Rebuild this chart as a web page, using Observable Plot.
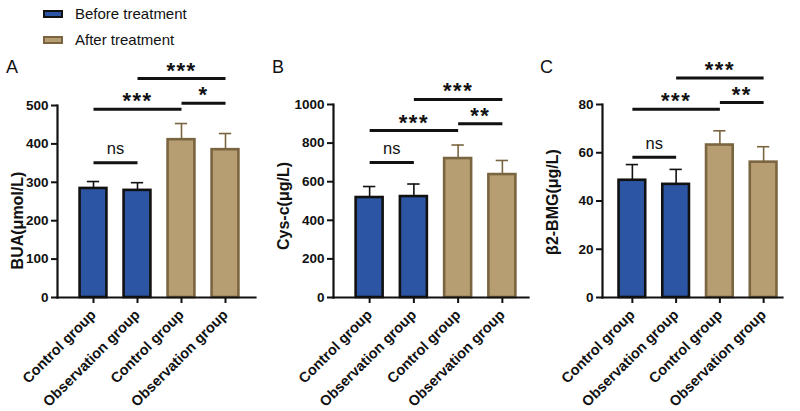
<!DOCTYPE html>
<html>
<head>
<meta charset="utf-8">
<script src="https://cdn.jsdelivr.net/npm/d3@7"></script>
<script src="https://cdn.jsdelivr.net/npm/@observablehq/plot@0.6"></script>
<style>
  html, body { margin: 0; padding: 0; background: #fff; }
  #root { position: relative; width: 800px; height: 411px; overflow: hidden; font-family: "Liberation Sans", Arial, sans-serif; }
  .panel { position: absolute; top: 50px; }
  .letter { position: absolute; font-size: 18px; color: #111; }
  .leg { position: absolute; left: 43px; font-size: 15px; color: #111; display: flex; align-items: center; }
  .leg .sw { width: 16px; height: 4px; border: 2px solid; margin-right: 12px; }
</style>
</head>
<body>
<div id="root"></div>
<script>
// ---------- data ----------
const categories = ["Control group", "Observation group", "Control group", "Observation group"];
const phases = ["Before treatment", "Before treatment", "After treatment", "After treatment"];
const seriesNames = ["Before treatment", "After treatment"];

const buaMean = [284, 279, 411, 385];
const buaUpper = [302, 299, 453, 427];
const buaTicks = [0, 100, 200, 300, 400, 500];

const cysMean = [518, 523, 720, 637];
const cysUpper = [575, 588, 790, 710];
const cysTicks = [0, 200, 400, 600, 800, 1000];

const bmgMean = [48.6, 46.9, 63.2, 56.1];
const bmgUpper = [55.1, 53.1, 69.1, 62.5];
const bmgTicks = [0, 20, 40, 60, 80];

// significance brackets: from group index, to group index, height (data units), label
const sigFrom = [0, 0, 2, 1];
const sigTo = [1, 2, 3, 3];
const buaSigY = [351, 490, 506, 570];
const cysSigY = [700, 865, 900, 1026];
const bmgSigY = [58.1, 78, 80.8, 91];
const buaSigLabel = ["ns", "***", "*", "***"];
const cysSigLabel = ["ns", "***", "**", "***"];
const bmgSigLabel = ["ns", "***", "**", "***"];

// ---------- styles ----------
const fillColor = {"Before treatment": "#2c56a4", "After treatment": "#b69e72"};
const strokeColor = {"Before treatment": "#111111", "After treatment": "#7a6540"};
const FONT = "Liberation Sans, Arial, sans-serif";
const HALF_BAR = 0.305;   // bar half-width in group units
const HALF_CAP = 0.14;    // error-bar cap half-width in group units

function panel(o) {
  const rows = categories.map((c, i) => ({i, cat: c, phase: phases[i], mean: o.mean[i], upper: o.upper[i]}));
  const sig = o.sigY.map((y, j) => ({from: sigFrom[j], to: sigTo[j], y, label: o.sigLabel[j]}));
  const stars = sig.filter(d => d.label !== "ns");
  const ns = sig.filter(d => d.label === "ns");
  return Plot.plot({
    width: o.width,
    height: 361,
    marginTop: o.marginTop,
    marginBottom: 361 - o.zeroY,
    marginLeft: o.marginLeft,
    marginRight: o.marginRight,
    style: {fontFamily: FONT, overflow: "visible", background: "transparent", color: "#111"},
    x: {type: "linear", domain: [-0.5, categories.length - 0.5], range: o.xRange},
    y: {domain: [0, o.ticks[o.ticks.length - 1]]},
    marks: [
      // error bars (upper half only)
      Plot.ruleX(rows, {x: "i", y1: "mean", y2: "upper", stroke: d => strokeColor[d.phase], strokeWidth: 1.6}),
      Plot.ruleY(rows, {x1: d => d.i - HALF_CAP, x2: d => d.i + HALF_CAP, y: "upper", stroke: d => strokeColor[d.phase], strokeWidth: 1.6}),
      // bars
      Plot.rectY(rows, {x1: d => d.i - HALF_BAR, x2: d => d.i + HALF_BAR, y: "mean", fill: d => fillColor[d.phase], stroke: d => strokeColor[d.phase], strokeWidth: 2.6}),
      // axes
      Plot.axisY({ticks: o.ticks, tickSize: 6, tickPadding: 3, fontSize: 13.5, fontWeight: "bold", strokeWidth: 2, label: null, tickFormat: d => String(d)}),
      Plot.axisX({ticks: categories.map((_, i) => i), tickSize: 6, tickPadding: 9, tickRotate: -45, fontSize: 14.5, fontWeight: "bold", strokeWidth: 2, label: null, tickFormat: i => categories[i]}),
      Plot.frame({anchor: "left", strokeWidth: 2.2, stroke: "#111"}),
      Plot.frame({anchor: "bottom", strokeWidth: 2.2, stroke: "#111"}),
      // y label
      Plot.text([o.label], {frameAnchor: "left", rotate: -90, dx: -o.labelOffset, dy: o.labelDy, fontSize: 16, fontWeight: "bold", textAnchor: "middle", lineAnchor: "middle", fill: "#111"}),
      // significance brackets
      Plot.link(sig, {x1: "from", x2: "to", y1: "y", y2: "y", stroke: "#111", strokeWidth: 3}),
      Plot.text(ns, {x: d => (d.from + d.to) / 2, y: "y", text: "label", dy: -8.5, lineAnchor: "bottom", fontSize: 16.5, fill: "#111"}),
      Plot.text(stars, {x: d => (d.from + d.to) / 2, y: "y", text: "label", dy: -1, lineAnchor: "bottom", fontSize: 22, fontWeight: "bold", fill: "#111"}),
    ]
  });
}

const root = document.getElementById("root");

const configs = [
  {left: 0, width: 270, marginTop: 55, zeroY: 247, marginLeft: 57, marginRight: 15, xRange: [71, 247],
   ticks: buaTicks, mean: buaMean, upper: buaUpper, sigY: buaSigY, sigLabel: buaSigLabel,
   label: "BUA(μmol/L)", labelOffset: 40, labelDy: 19, letter: "A", letterX: 6},
  {left: 270, width: 270, marginTop: 54, zeroY: 247, marginLeft: 63, marginRight: 12, xRange: [77, 254],
   ticks: cysTicks, mean: cysMean, upper: cysUpper, sigY: cysSigY, sigLabel: cysSigLabel,
   label: "Cys-c(μg/L)", labelOffset: 50, labelDy: 5, letter: "B", letterX: 272},
  {left: 540, width: 260, marginTop: 54, zeroY: 247, marginLeft: 62, marginRight: 18, xRange: [70, 245],
   ticks: bmgTicks, mean: bmgMean, upper: bmgUpper, sigY: bmgSigY, sigLabel: bmgSigLabel,
   label: "β2-BMG(μg/L)", labelOffset: 50, labelDy: 1, letter: "C", letterX: 540},
];

for (const c of configs) {
  const plot = panel(c);
  // spread asterisks a little, like the original
  plot.querySelectorAll("text").forEach(t => {
    if (/^\*+$/.test(t.textContent)) t.setAttribute("letter-spacing", "1.5");
  });
  const wrap = document.createElement("div");
  wrap.className = "panel";
  wrap.style.left = c.left + "px";
  wrap.appendChild(plot);
  root.appendChild(wrap);
  const letter = document.createElement("div");
  letter.className = "letter";
  letter.textContent = c.letter;
  letter.style.left = c.letterX + "px";
  letter.style.top = "57px";
  root.appendChild(letter);
}

// legend
seriesNames.forEach((s, i) => {
  const row = document.createElement("div");
  row.className = "leg";
  row.style.top = (i === 0 ? 5 : 31) + "px";
  const sw = document.createElement("div");
  sw.className = "sw";
  sw.style.background = fillColor[s];
  sw.style.borderColor = strokeColor[s];
  const tx = document.createElement("span");
  tx.textContent = s;
  row.appendChild(sw);
  row.appendChild(tx);
  root.appendChild(row);
});
</script>
</body>
</html>
